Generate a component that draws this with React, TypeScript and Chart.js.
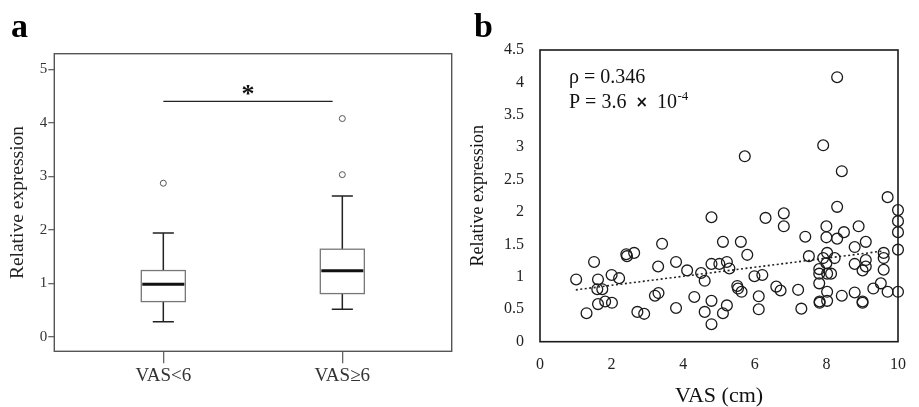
import React, { useEffect, useRef } from "react";
import { Chart, registerables } from "chart.js";

Chart.register(...registerables);

// ---- panel a: box plot ----
const groups = ["VAS<6", "VAS≥6"];
const groupPos = [1, 2];
const whiskerLow = [0.28, 0.51];
const q1 = [0.655, 0.805];
const median = [0.98, 1.23];
const q3 = [1.236, 1.635];
const whiskerHigh = [1.94, 2.63];
const outlierGroup = [1, 2, 2];
const outlierValue = [2.87, 3.03, 4.08];
const yTicksA = [0, 1, 2, 3, 4, 5];
const sigBarX = [1, 1.946];
const sigBarY = 4.4;
const sigStarY = 4.59;

// ---- panel b: scatter ----
const vas = [
  1.01, 1.3, 1.51, 1.62, 1.6, 1.74, 1.62, 1.82, 2.01, 2.0, 2.21, 2.41, 2.43,
  2.63, 2.72, 2.91, 3.21, 3.31, 3.3, 3.41, 3.8, 3.8, 4.11, 4.31, 4.5, 4.6, 4.6,
  4.79, 4.79, 4.79, 4.79, 5.01, 5.11, 5.11, 5.22, 5.29, 5.22, 5.51, 5.53, 5.61,
  5.63, 5.72, 5.79, 5.99, 6.21, 6.11, 6.11, 6.3, 6.6, 6.72, 6.81, 6.81, 7.21,
  7.3, 7.41, 7.51, 7.8, 7.8, 7.8, 7.81, 7.81, 7.91, 7.91, 8.0, 8.0, 8.0, 8.02,
  8.02, 8.02, 8.02, 8.13, 8.23, 8.3, 8.3, 8.3, 8.43, 8.43, 8.49, 8.79, 8.79,
  8.79, 8.9, 9.01, 9.01, 9.01, 9.1, 9.1, 9.1, 9.31, 9.52, 9.6, 9.6, 9.6, 9.71,
  9.71, 10.0, 10.0, 10.0, 10.0, 10.0,
];
const expr = [
  0.96, 0.44, 1.23, 0.96, 0.81, 0.81, 0.58, 0.62, 0.6, 1.03, 0.98, 1.35, 1.32,
  1.37, 0.46, 0.43, 0.71, 0.75, 1.16, 1.51, 1.23, 0.52, 1.1, 0.69, 1.06, 0.94,
  0.46, 1.92, 1.2, 0.63, 0.27, 1.2, 1.54, 0.44, 1.23, 1.13, 0.56, 0.86, 0.82,
  1.54, 0.77, 2.86, 1.34, 1.01, 1.03, 0.7, 0.5, 1.91, 0.85, 0.79, 1.98, 1.78,
  0.8, 0.51, 1.62, 1.32, 1.12, 1.05, 0.9, 0.62, 0.6, 3.03, 1.29, 1.21, 1.78,
  1.61, 1.37, 1.05, 0.77, 0.63, 1.05, 1.29, 4.08, 2.08, 1.59, 2.63, 0.71, 1.69,
  1.46, 1.2, 0.76, 1.78, 1.1, 0.62, 0.6, 1.54, 1.26, 1.16, 0.82, 0.9, 1.37,
  1.29, 1.11, 2.23, 0.77, 2.03, 1.86, 1.69, 1.42, 0.77,
];
const trendX = [1, 9.6];
const trendY = [0.8, 1.4];
const xTicksB = [0, 2, 4, 6, 8, 10];
const yTicksB = [0, 0.5, 1, 1.5, 2, 2.5, 3, 3.5, 4, 4.5];

const SERIF = "'Liberation Serif', 'Times New Roman', serif";
const BOX_HALF = 0.123;
const CAP_HALF = 0.059;

const framePlugin = {
  id: "frame",
  afterDraw(chart: Chart, _args: any, opts: any) {
    const { ctx, chartArea } = chart;
    ctx.save();
    ctx.strokeStyle = opts.color;
    ctx.lineWidth = opts.width;
    ctx.strokeRect(
      chartArea.left,
      chartArea.top,
      chartArea.right - chartArea.left,
      chartArea.bottom - chartArea.top
    );
    ctx.fillStyle = "#000";
    ctx.font = `bold 34px ${SERIF}`;
    ctx.textBaseline = "alphabetic";
    ctx.fillText(opts.letter, opts.lx, opts.ly);
    ctx.restore();
  },
};

const boxPlotPlugin = {
  id: "boxPlot",
  afterDatasetsDraw(chart: Chart) {
    const { ctx } = chart;
    const xs = chart.scales.x;
    const ys = chart.scales.y;
    ctx.save();
    groupPos.forEach((g, i) => {
      const cx = xs.getPixelForValue(g);
      const bl = xs.getPixelForValue(g - BOX_HALF);
      const br = xs.getPixelForValue(g + BOX_HALF);
      const cl = xs.getPixelForValue(g - CAP_HALF);
      const cr = xs.getPixelForValue(g + CAP_HALF);
      const yLo = ys.getPixelForValue(whiskerLow[i]);
      const yQ1 = ys.getPixelForValue(q1[i]);
      const yMed = ys.getPixelForValue(median[i]);
      const yQ3 = ys.getPixelForValue(q3[i]);
      const yHi = ys.getPixelForValue(whiskerHigh[i]);

      ctx.strokeStyle = "#222";
      ctx.lineWidth = 1.5;
      ctx.beginPath();
      ctx.moveTo(cx, yHi);
      ctx.lineTo(cx, yQ3);
      ctx.moveTo(cx, yQ1);
      ctx.lineTo(cx, yLo);
      ctx.moveTo(cl, yHi);
      ctx.lineTo(cr, yHi);
      ctx.moveTo(cl, yLo);
      ctx.lineTo(cr, yLo);
      ctx.stroke();

      ctx.strokeStyle = "#777";
      ctx.lineWidth = 1.3;
      ctx.strokeRect(bl, yQ3, br - bl, yQ1 - yQ3);

      ctx.strokeStyle = "#111";
      ctx.lineWidth = 3;
      ctx.beginPath();
      ctx.moveTo(bl + 1, yMed);
      ctx.lineTo(br - 1, yMed);
      ctx.stroke();
    });

    // significance bar
    const sy = ys.getPixelForValue(sigBarY);
    ctx.strokeStyle = "#222";
    ctx.lineWidth = 1.3;
    ctx.beginPath();
    ctx.moveTo(xs.getPixelForValue(sigBarX[0]), sy);
    ctx.lineTo(xs.getPixelForValue(sigBarX[1]), sy);
    ctx.stroke();
    ctx.fillStyle = "#111";
    ctx.font = `bold 26px ${SERIF}`;
    ctx.textAlign = "center";
    ctx.textBaseline = "middle";
    ctx.fillText(
      "*",
      xs.getPixelForValue((sigBarX[0] + sigBarX[1]) / 2),
      ys.getPixelForValue(sigStarY) + 4
    );
    ctx.restore();
  },
};

const statsPlugin = {
  id: "stats",
  afterDraw(chart: Chart) {
    const { ctx, chartArea } = chart;
    const x0 = chartArea.left + 29;
    ctx.save();
    ctx.fillStyle = "#111";
    ctx.textBaseline = "alphabetic";
    ctx.textAlign = "left";
    ctx.font = `20px ${SERIF}`;
    ctx.fillText("ρ = 0.346", x0, chartArea.top + 33);
    const by = chartArea.top + 58;
    const p = "P = 3.6";
    ctx.fillText(p, x0, by);
    let x = x0 + ctx.measureText(p).width + 9;
    ctx.font = `bold 15px 'DejaVu Sans', sans-serif`;
    ctx.fillText("×", x, by - 1);
    x += ctx.measureText("×").width + 9;
    ctx.font = `20px ${SERIF}`;
    ctx.fillText("10", x, by);
    x += ctx.measureText("10").width + 0.5;
    ctx.font = `13px ${SERIF}`;
    ctx.fillText("-4", x, by - 8);
    ctx.restore();
  },
};

function BoxPanel() {
  const ref = useRef<HTMLCanvasElement>(null);
  useEffect(() => {
    if (!ref.current) return;
    const chart = new Chart(ref.current, {
      type: "scatter",
      data: {
        datasets: [
          {
            label: "outliers",
            data: outlierGroup.map((g, i) => ({ x: g, y: outlierValue[i] })),
            pointRadius: 3,
            pointBorderWidth: 1,
            pointBorderColor: "#555",
            pointBackgroundColor: "#fff",
          },
        ],
      },
      options: {
        animation: false,
        responsive: true,
        maintainAspectRatio: false,
        layout: { padding: { left: 0, top: 53.7, right: 8.3, bottom: 0 } },
        plugins: {
          legend: { display: false },
          tooltip: { enabled: false },
          frame: { color: "#555", width: 1.4, letter: "a", lx: 11, ly: 37 },
        } as any,
        scales: {
          x: {
            type: "linear",
            min: 0.391,
            max: 2.611,
            afterBuildTicks: (s: any) => {
              s.ticks = groupPos.map((v) => ({ value: v }));
            },
            afterFit: (s: any) => {
              s.height = 55.7;
            },
            ticks: {
              callback: (v: any) => groups[groupPos.indexOf(Number(v))] ?? "",
              font: { family: SERIF, size: 19 },
              color: "#333",
              padding: 1,
              autoSkip: false,
              maxRotation: 0,
            },
            grid: {
              drawOnChartArea: false,
              drawTicks: true,
              tickLength: 12,
              color: "#666",
              lineWidth: 1.3,
            },
            border: { display: false },
          },
          y: {
            type: "linear",
            min: -0.275,
            max: 5.293,
            afterBuildTicks: (s: any) => {
              s.ticks = yTicksA.map((v) => ({ value: v }));
            },
            afterFit: (s: any) => {
              s.width = 54.3;
            },
            ticks: {
              callback: (v: any) => String(v),
              font: { family: SERIF, size: 15 },
              color: "#333",
              padding: 1,
            },
            grid: {
              drawOnChartArea: false,
              drawTicks: true,
              tickLength: 6,
              color: "#666",
              lineWidth: 1.3,
            },
            border: { display: false },
            title: {
              display: true,
              text: "Relative expression",
              font: { family: SERIF, size: 19.5, lineHeight: 1 },
              color: "#222",
              padding: { top: 8, bottom: 0 },
            },
          },
        },
      },
      plugins: [framePlugin, boxPlotPlugin],
    });
    return () => chart.destroy();
  }, []);
  return (
    <div style={{ position: "absolute", left: 0, top: 0, width: 460, height: 407 }}>
      <canvas ref={ref} />
    </div>
  );
}

function ScatterPanel() {
  const ref = useRef<HTMLCanvasElement>(null);
  useEffect(() => {
    if (!ref.current) return;
    const chart = new Chart(ref.current, {
      type: "scatter",
      data: {
        datasets: [
          {
            label: "samples",
            data: vas.map((v, i) => ({ x: v, y: expr[i] })),
            pointRadius: 5.4,
            pointBorderWidth: 1.3,
            pointBorderColor: "#1a1a1a",
            pointBackgroundColor: "rgba(0,0,0,0)",
            clip: false,
          },
          {
            label: "trend",
            data: trendX.map((v, i) => ({ x: v, y: trendY[i] })),
            showLine: true,
            pointRadius: 0,
            borderColor: "#222",
            borderWidth: 1.6,
            borderDash: [2, 2.5],
          },
        ],
      },
      options: {
        animation: false,
        responsive: true,
        maintainAspectRatio: false,
        layout: { padding: { left: 0, top: 50, right: 9, bottom: 0 } },
        plugins: {
          legend: { display: false },
          tooltip: { enabled: false },
          frame: { color: "#1a1a1a", width: 1.6, letter: "b", lx: 14, ly: 37 },
        } as any,
        scales: {
          x: {
            type: "linear",
            min: 0,
            max: 10,
            afterBuildTicks: (s: any) => {
              s.ticks = xTicksB.map((v) => ({ value: v }));
            },
            afterFit: (s: any) => {
              s.height = 65.3;
            },
            ticks: {
              callback: (v: any) => String(v),
              font: { family: SERIF, size: 16 },
              color: "#222",
              padding: 13,
              maxRotation: 0,
            },
            grid: { display: false, drawTicks: false },
            border: { display: false },
            title: {
              display: true,
              text: "VAS (cm)",
              font: { family: SERIF, size: 22, lineHeight: 1 },
              color: "#111",
              padding: { top: 0, bottom: 0 },
            },
          },
          y: {
            type: "linear",
            min: 0,
            max: 4.5,
            afterBuildTicks: (s: any) => {
              s.ticks = yTicksB.map((v) => ({ value: v }));
            },
            afterFit: (s: any) => {
              s.width = 80;
            },
            ticks: {
              callback: (v: any) => String(v),
              font: { family: SERIF, size: 16 },
              color: "#222",
              padding: 16,
            },
            grid: { display: false, drawTicks: false },
            border: { display: false },
            title: {
              display: true,
              text: "Relative expression",
              font: { family: SERIF, size: 18, lineHeight: 1 },
              color: "#111",
              padding: { top: 9, bottom: 0 },
            },
          },
        },
      },
      plugins: [framePlugin, statsPlugin],
    });
    return () => chart.destroy();
  }, []);
  return (
    <div style={{ position: "absolute", left: 460, top: 0, width: 459, height: 407 }}>
      <canvas ref={ref} />
    </div>
  );
}

export default function App() {
  useEffect(() => {
    document.body.style.margin = "0";
  }, []);
  return (
    <div style={{ position: "relative", width: 919, height: 407, background: "#fff" }}>
      <BoxPanel />
      <ScatterPanel />
    </div>
  );
}
